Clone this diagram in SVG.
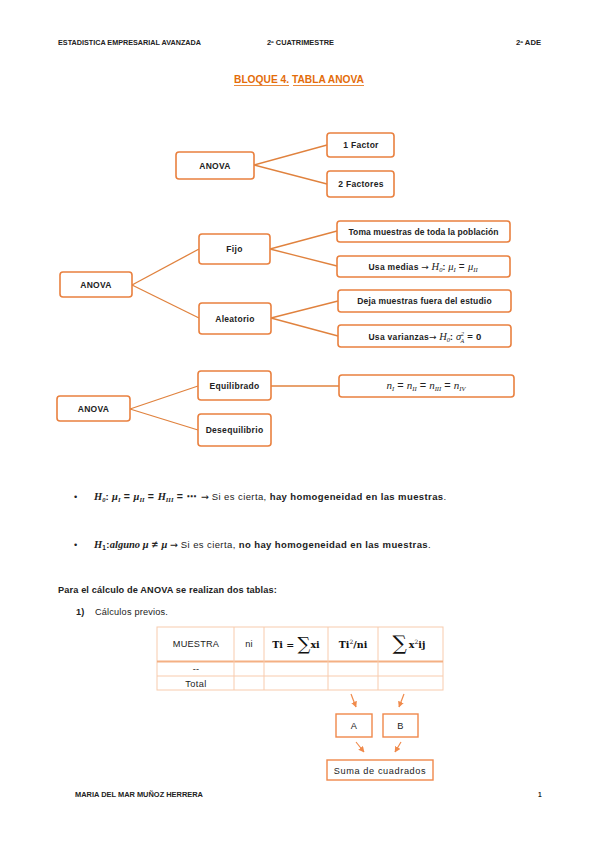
<svg xmlns="http://www.w3.org/2000/svg" width="599" height="848" viewBox="0 0 599 848">
<defs>
<style>
.bg{fill:#ffffff}
.box{fill:#ffffff;stroke:#E9803F;stroke-width:1.6}
.sq{fill:#ffffff;stroke:#F0884A;stroke-width:1.4}
.con{stroke:#E0823E;stroke-width:1.3;fill:none}
.arr{stroke:#F08A4B;stroke-width:1.2;fill:none}
.t{font-family:"Liberation Sans","DejaVu Sans",sans-serif;font-size:8.5px;fill:#222;text-anchor:middle;font-weight:bold;letter-spacing:0.3px}
.m{font-family:"Liberation Serif","DejaVu Serif",serif;font-style:italic;font-weight:normal;letter-spacing:0}
.mb{font-family:"Liberation Serif","DejaVu Serif",serif;font-style:italic;font-weight:bold;letter-spacing:0}
.ar{font-family:"DejaVu Sans",sans-serif;font-weight:normal;letter-spacing:0}
.hd{font-family:"Liberation Sans","DejaVu Sans",sans-serif;font-size:6.6px;font-weight:bold;fill:#222}
.tx{font-family:"Liberation Sans","DejaVu Sans",sans-serif;font-size:9.2px;fill:#222;letter-spacing:0.2px}
.tl{stroke:#F8CBAD;stroke-width:1;fill:none}
</style>
<marker id="ah" viewBox="0 0 10 10" refX="9" refY="5" markerWidth="5" markerHeight="5" orient="auto">
<path d="M0,0 L10,5 L0,10 z" fill="#F08A4B"/>
</marker>
</defs>
<rect class="bg" x="0" y="0" width="599" height="848"/>

<g id="header">
<text class="hd" x="58" y="45" textLength="143" lengthAdjust="spacingAndGlyphs">ESTADISTICA EMPRESARIAL AVANZADA</text>
<text class="hd" x="267" y="45" textLength="67" lengthAdjust="spacingAndGlyphs">2º CUATRIMESTRE</text>
<text class="hd" x="516" y="45" textLength="25" lengthAdjust="spacingAndGlyphs">2º ADE</text>
</g>
<g id="title">
<text x="234" y="83" font-family="Liberation Sans, DejaVu Sans, sans-serif" font-size="10.5" font-weight="bold" fill="#E36C0A" textLength="130" lengthAdjust="spacingAndGlyphs">BLOQUE 4. TABLA ANOVA</text>
<line x1="234" y1="85.5" x2="289" y2="85.5" stroke="#E36C0A" stroke-width="0.8"/>
<line x1="293" y1="85.5" x2="364" y2="85.5" stroke="#E36C0A" stroke-width="0.8"/>
</g>

<g id="connectors">
<line class="con" x1="254" y1="165" x2="327" y2="145"/>
<line class="con" x1="254" y1="165" x2="327" y2="184"/>
<line class="con" x1="132" y1="285" x2="199" y2="249"/>
<line class="con" x1="132" y1="285" x2="199" y2="318"/>
<line class="con" x1="270" y1="249" x2="337" y2="231"/>
<line class="con" x1="270" y1="249" x2="337" y2="266"/>
<line class="con" x1="271" y1="318" x2="338" y2="301"/>
<line class="con" x1="271" y1="318" x2="338" y2="336"/>
<line class="con" x1="130" y1="409" x2="198" y2="386"/>
<line class="con" x1="130" y1="409" x2="198" y2="430"/>
<line class="con" x1="271" y1="386" x2="339" y2="386"/>
<line class="arr" x1="351" y1="694" x2="356" y2="707" marker-end="url(#ah)"/>
<line class="arr" x1="404" y1="694" x2="399" y2="707" marker-end="url(#ah)"/>
<line class="arr" x1="356" y1="742" x2="364" y2="752" marker-end="url(#ah)"/>
<line class="arr" x1="401" y1="742" x2="395" y2="752" marker-end="url(#ah)"/>
</g>

<g id="anova1"><rect class="box" x="176" y="152" width="78" height="27" rx="3"/><text class="t" x="215" y="168.5">ANOVA</text></g>
<g id="factor1"><rect class="box" x="327" y="133" width="67" height="24" rx="3"/><text class="t" x="361" y="148">1 Factor</text></g>
<g id="factor2"><rect class="box" x="327" y="171" width="67" height="26" rx="3"/><text class="t" x="361" y="187">2 Factores</text></g>

<g id="anova2"><rect class="box" x="60" y="272" width="72" height="25" rx="3"/><text class="t" x="96" y="287.5">ANOVA</text></g>
<g id="fijo"><rect class="box" x="199" y="234" width="71" height="30" rx="3"/><text class="t" x="234.5" y="252">Fijo</text></g>
<g id="aleatorio"><rect class="box" x="199" y="303" width="72" height="31" rx="3"/><text class="t" x="235" y="321.5">Aleatorio</text></g>
<g id="toma"><rect class="box" x="337" y="221" width="173" height="21" rx="3"/><text class="t" x="423.5" y="234.5" style="letter-spacing:0.1px">Toma muestras de toda la población</text></g>
<g id="medias"><rect class="box" x="337" y="256" width="173" height="21" rx="3"/><text class="t" x="423" y="270">Usa medias <tspan class="ar" font-size="9">→</tspan> <tspan class="m" font-size="10.5">H</tspan><tspan class="m" font-size="6.5" dy="2">0</tspan><tspan dy="-2">: </tspan><tspan class="m" font-size="10.5">μ</tspan><tspan class="m" font-size="6.5" dy="2">I</tspan><tspan font-weight="normal" font-size="10" dy="-2"> = </tspan><tspan class="m" font-size="10.5">μ</tspan><tspan class="m" font-size="6.5" dy="2">II</tspan></text></g>
<g id="deja"><rect class="box" x="338" y="290" width="173" height="22" rx="3"/><text class="t" x="424.5" y="304" style="letter-spacing:0.2px">Deja muestras fuera del estudio</text></g>
<g id="varianzas"><rect class="box" x="338" y="325" width="173" height="22" rx="3"/><text class="t" x="425" y="340">Usa varianzas<tspan class="ar" font-size="9">→</tspan> <tspan class="m" font-size="10.5">H</tspan><tspan class="m" font-size="6.5" dy="2">0</tspan><tspan dy="-2">: </tspan><tspan class="m" font-size="10.5">σ</tspan><tspan class="m" font-size="6" dy="-4">2</tspan><tspan class="m" font-size="6" dx="-3.5" dy="6.5">A</tspan><tspan font-size="9.5" dy="-2.5"> = 0</tspan></text></g>

<g id="anova3"><rect class="box" x="57" y="396" width="73" height="25" rx="3"/><text class="t" x="93.5" y="411.5">ANOVA</text></g>
<g id="equilibrado"><rect class="box" x="198" y="371" width="73" height="29" rx="3"/><text class="t" x="234.5" y="389">Equilibrado</text></g>
<g id="desequilibrio"><rect class="box" x="198" y="414" width="73" height="32" rx="3"/><text class="t" x="234.5" y="433">Desequilibrio</text></g>
<g id="formula"><rect class="box" x="339" y="375" width="175" height="22" rx="3"/><text class="t" x="426" y="389" style="font-size:11px;letter-spacing:0;font-weight:normal"><tspan class="m">n</tspan><tspan class="m" font-size="6.5" dy="2">I</tspan><tspan dy="-2"> = </tspan><tspan class="m">n</tspan><tspan class="m" font-size="6.5" dy="2">II</tspan><tspan dy="-2"> = </tspan><tspan class="m">n</tspan><tspan class="m" font-size="6.5" dy="2">III</tspan><tspan dy="-2"> = </tspan><tspan class="m">n</tspan><tspan class="m" font-size="6.5" dy="2">IV</tspan></text></g>

<g id="bullets">
<text class="tx" x="74" y="500">•</text>
<text class="tx" x="94" y="500" style="font-size:9.5px;letter-spacing:0.4px"><tspan class="mb" font-size="10.5">H</tspan><tspan class="mb" font-size="6.5" dy="2">0</tspan><tspan font-weight="bold" dy="-2">: </tspan><tspan class="mb" font-size="10.5">μ</tspan><tspan class="mb" font-size="6.5" dy="2">I</tspan><tspan dy="-2" font-size="10.5" font-weight="bold"> = </tspan><tspan class="mb" font-size="10.5">μ</tspan><tspan class="mb" font-size="6.5" dy="2">II</tspan><tspan dy="-2" font-size="10.5" font-weight="bold"> = </tspan><tspan class="mb" font-size="10.5">H</tspan><tspan class="mb" font-size="6.5" dy="2">III</tspan><tspan dy="-2" font-size="10.5" font-weight="bold"> = ⋯ </tspan><tspan class="ar" font-size="9.5">→</tspan> Si es cierta, <tspan font-weight="bold">hay homogeneidad en las muestras</tspan>.</text>
<text class="tx" x="74" y="548">•</text>
<text class="tx" x="94" y="548" style="font-size:9.5px;letter-spacing:0.4px"><tspan class="mb" font-size="10.5">H</tspan><tspan font-weight="bold" font-size="6.5" dy="2">1</tspan><tspan font-weight="bold" dy="-2">:</tspan><tspan class="mb" font-size="10.5">alguno μ</tspan><tspan font-size="10.5" font-weight="bold"> ≠ </tspan><tspan class="mb" font-size="10.5">μ </tspan><tspan class="ar" font-size="9.5">→</tspan> Si es cierta, <tspan font-weight="bold">no hay homogeneidad en las muestras</tspan>.</text>
</g>

<g id="para">
<text class="tx" x="58" y="593" font-weight="bold" textLength="219" lengthAdjust="spacing">Para el cálculo de ANOVA se realizan dos tablas:</text>
<text class="tx" x="76" y="615" font-weight="bold">1)</text>
<text class="tx" x="95" y="615" textLength="73" lengthAdjust="spacing">Cálculos previos.</text>
</g>

<g id="tabla">
<rect x="157" y="627" width="286" height="63" fill="#ffffff" stroke="#F8CBAD" stroke-width="1"/>
<line x1="157" y1="661.5" x2="443" y2="661.5" stroke="#F4B083" stroke-width="2"/>
<line class="tl" x1="157" y1="676" x2="443" y2="676"/>
<line class="tl" x1="234" y1="627" x2="234" y2="690"/>
<line class="tl" x1="264" y1="627" x2="264" y2="690"/>
<line class="tl" x1="328" y1="627" x2="328" y2="690"/>
<line class="tl" x1="378" y1="627" x2="378" y2="690"/>
<text class="tx" x="196" y="647" text-anchor="middle" font-size="8.5">MUESTRA</text>
<text class="tx" x="249" y="647" text-anchor="middle" font-size="8.5">ni</text>
<text x="296" y="648" text-anchor="middle" font-family="DejaVu Serif, Liberation Serif, serif" font-weight="bold" font-size="9.5" fill="#111">Ti = <tspan font-size="18" font-weight="normal" dy="2">∑</tspan><tspan dy="-2">xi</tspan></text>
<text x="353" y="648" text-anchor="middle" font-family="DejaVu Serif, Liberation Serif, serif" font-weight="bold" font-size="9.5" fill="#111">Ti<tspan font-size="6" dy="-4" font-weight="normal">2</tspan><tspan dy="4">/ni</tspan></text>
<text x="409" y="648" text-anchor="middle" font-family="DejaVu Serif, Liberation Serif, serif" font-weight="bold" font-size="9.5" fill="#111"><tspan font-size="20" font-weight="normal" dy="2">∑</tspan><tspan dx="2" dy="-2">x</tspan><tspan font-size="6" dy="-4" font-weight="normal">2</tspan><tspan dy="4">ij</tspan></text>
<text class="tx" x="196" y="672" text-anchor="middle" font-size="7">--</text>
<text class="tx" x="196" y="686.5" text-anchor="middle" font-size="8.5" style="letter-spacing:0.4px">Total</text>
</g>

<g id="A"><rect class="sq" x="336" y="714" width="36" height="23"/><text class="tx" x="354" y="729" text-anchor="middle">A</text></g>
<g id="B"><rect class="sq" x="383" y="714" width="35" height="23"/><text class="tx" x="400.5" y="729" text-anchor="middle">B</text></g>
<g id="suma"><rect class="sq" x="327" y="760" width="106" height="20"/><text class="tx" x="380" y="773.5" text-anchor="middle" style="letter-spacing:0.6px">Suma de cuadrados</text></g>

<g id="footer">
<text class="hd" x="75" y="797" textLength="128" lengthAdjust="spacingAndGlyphs">MARIA DEL MAR MUÑOZ HERRERA</text>
<text class="hd" x="538" y="797">1</text>
</g>
</svg>
